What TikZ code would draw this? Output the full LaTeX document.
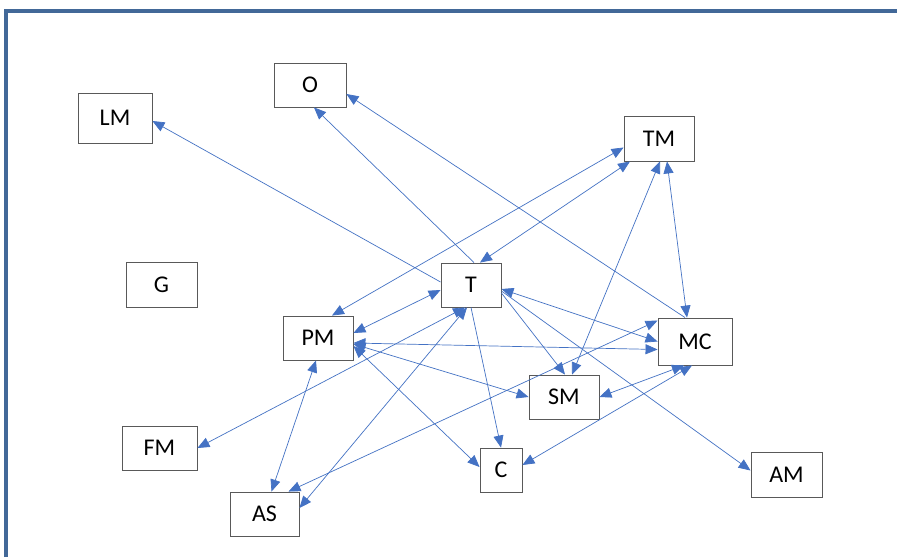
\documentclass[tikz,border=0pt]{standalone}
\usepackage{fontspec}
\setmainfont{Carlito}
\usetikzlibrary{arrows.meta}
\definecolor{lineblue}{RGB}{68,114,196}
\definecolor{framecol}{RGB}{66,104,152}
\begin{document}
\begin{tikzpicture}[x=1pt,y=-1pt,
  box/.style={draw=black!65, line width=0.9pt, fill=white, minimum height=44pt, inner sep=0pt, font=\fontsize{24}{28}\selectfont},
  conn/.style={draw=lineblue, line width=0.7pt, -{Triangle[length=12pt,width=10pt]}},
  bi/.style={draw=lineblue, line width=0.7pt, {Triangle[length=12pt,width=10pt]}-{Triangle[length=12pt,width=10pt]}}]
\useasboundingbox (0,0) rectangle (897,557);
\fill[white] (0,0) rectangle (897,557);
\draw[framecol, line width=3.5pt] (6,557) -- (6,11) -- (897,11);

\node[box, minimum width=74pt, minimum height=50pt] (LM) at (115,118) {LM};
\node[box, minimum width=72pt] (O) at (310,85) {O};
\node[box, minimum width=70pt, minimum height=45pt] (TM) at (659,138.5) {TM};
\node[box, minimum width=71pt, minimum height=45pt] (G) at (161.5,284.5) {G};
\node[box, minimum width=60pt] (T) at (471,285) {T};
\node[box, minimum width=70pt] (PM) at (318,338) {PM};
\node[box, minimum width=74pt, minimum height=47pt] (MC) at (695,341.5) {MC};
\node[box, minimum width=70pt] (SM) at (564,397) {SM};
\node[box, minimum width=75pt] (FM) at (159.5,448) {FM};
\node[box, minimum width=42pt] (C) at (501,470) {C};
\node[box, minimum width=71pt, minimum height=45pt] (AM) at (786.5,474.5) {AM};
\node[box, minimum width=69pt] (AS) at (264.5,514) {AS};

\draw[conn] ([yshift=3pt]T.west) -- ([yshift=-3pt]LM.east);
\draw[conn] ([xshift=3pt]T.north) -- ([xshift=4pt]O.south);
\draw[conn] ([xshift=-10pt]MC.north) -- ([yshift=-9pt]O.east);
\draw[bi] ([xshift=14pt]PM.north) -- ([yshift=-9pt]TM.west);
\draw[bi] ([xshift=9pt]T.north) -- ([xshift=-29pt]TM.south);
\draw[bi] ([xshift=8pt]TM.south) -- ([xshift=-8pt]MC.north);
\draw[bi] ([xshift=1pt]TM.south) -- ([xshift=8pt]SM.north);
\draw[conn] ([yshift=-8pt]T.east) -- ([xshift=1pt]SM.north);
\draw[bi] ([yshift=-4pt]T.east) -- (MC.west);
\draw[bi] ([yshift=-5pt]PM.east) -- ([yshift=-8pt]MC.west);
\draw[bi] ([xshift=24pt]AS.north) -- ([yshift=-3pt]MC.north west);
\draw[bi] ([xshift=-4pt]T.south) -- ([yshift=6pt]AS.east);
\draw[bi] ([xshift=-6pt]T.south) -- (FM.east);
\draw[bi] ([yshift=-5pt]T.west) -- ([yshift=5pt]PM.east);
\draw[bi] ([xshift=-2pt]PM.south) -- ([xshift=7pt]AS.north);
\draw[bi] ([yshift=-8pt]PM.east) -- ([yshift=3pt]C.west);
\draw[bi] ([yshift=-6pt]PM.east) -- (SM.west);
\draw[conn] (T.south) -- (C.north);
\draw[bi] (SM.east) -- ([xshift=-11pt]MC.south);
\draw[bi] ([yshift=5pt]C.east) -- ([xshift=-3pt]MC.south);
\draw[conn] ([yshift=-6pt]T.east) -- ([yshift=4pt]AM.west);
\end{tikzpicture}
\end{document}
